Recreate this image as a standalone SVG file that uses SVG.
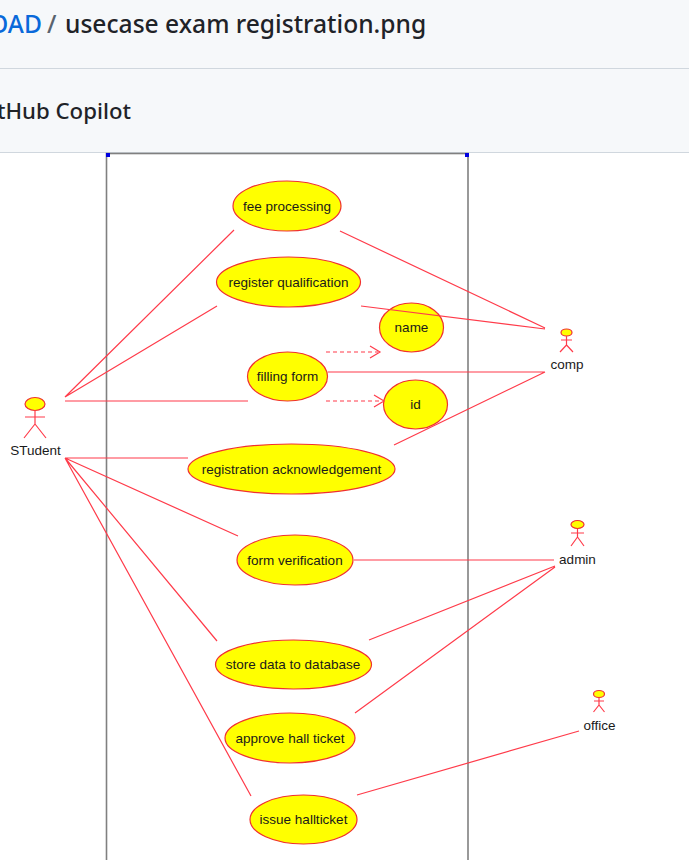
<svg xmlns="http://www.w3.org/2000/svg" width="689" height="860" viewBox="0 0 689 860">
<style>
.uc{fill:#ffff00;stroke:#f03030;stroke-width:1.2}
.lb{font-family:"Liberation Sans",Arial,sans-serif;font-size:13.5px;fill:#1a1a1a;text-anchor:middle}
.ln{fill:none;stroke:#ff3b4a;stroke-width:1.2}
.ds{fill:none;stroke:#ff3b4a;stroke-width:1.2;stroke-dasharray:4 3}
.ar{fill:none;stroke:#ff3b4a;stroke-width:1.2}
.hd{font-family:"Noto Sans","Open Sans",sans-serif;font-size:24.6px;font-weight:500}
.bx{stroke:#808080;stroke-width:1.6;fill:none}
.ac{fill:none;stroke:#ff3b4a;stroke-width:1.2}
.hdc{fill:#ffff00;stroke:#f03030;stroke-width:1.2}
</style>
<rect width="689" height="153" fill="#f6f8fa"/>
<line x1="0" y1="68.500" x2="689" y2="68.500" stroke="#d0d7de"/>
<line x1="0" y1="152.500" x2="689" y2="152.500" stroke="#d0d7de"/>
<text x="-11" y="33" class="hd" fill="#0969da">OAD</text>
<text x="47" y="33" class="hd" fill="#59636e">/</text>
<text x="65" y="33" class="hd" fill="#1f2328">usecase exam registration.png</text>
<text x="-3" y="119" font-family="Noto Sans,Open Sans,sans-serif" font-size="22.2" font-weight="500" fill="#1f2328">tHub Copilot</text>
<g id="system">
<rect x="106.500" y="153.500" width="361.500" height="720" class="bx"/>
<rect x="106" y="153" width="4" height="4" fill="#0000e0"/>
<rect x="465" y="153" width="4" height="4" fill="#0000e0"/>
</g>
<g id="uc-fee"><ellipse class="uc" cx="287" cy="206" rx="54" ry="25"/><text class="lb" x="287" y="211">fee processing</text></g>
<g id="uc-register"><ellipse class="uc" cx="288.500" cy="282" rx="72" ry="25"/><text class="lb" x="288.500" y="287">register qualification</text></g>
<g id="uc-name"><ellipse class="uc" cx="411.500" cy="327.500" rx="32" ry="24.500"/><text class="lb" x="411.500" y="332">name</text></g>
<g id="uc-filling"><ellipse class="uc" cx="287.500" cy="376.500" rx="40" ry="24.500"/><text class="lb" x="287.500" y="381">filling form</text></g>
<g id="uc-id"><ellipse class="uc" cx="415.500" cy="404.500" rx="32" ry="24.500"/><text class="lb" x="415.500" y="409">id</text></g>
<g id="uc-ack"><ellipse class="uc" cx="291.500" cy="469" rx="103.500" ry="25"/><text class="lb" x="291.500" y="474">registration acknowledgement</text></g>
<g id="uc-verify"><ellipse class="uc" cx="295" cy="560" rx="58" ry="25"/><text class="lb" x="295" y="565">form verification</text></g>
<g id="uc-store"><ellipse class="uc" cx="293.500" cy="664.500" rx="78" ry="24.500"/><text class="lb" x="293" y="669">store data to database</text></g>
<g id="uc-approve"><ellipse class="uc" cx="290" cy="738" rx="65" ry="25"/><text class="lb" x="290" y="742.500">approve hall ticket</text></g>
<g id="uc-issue"><ellipse class="uc" cx="303.500" cy="819.500" rx="53.500" ry="24.500"/><text class="lb" x="303.500" y="824">issue hallticket</text></g>
<g id="actor-student"><ellipse class="hdc" cx="35" cy="404" rx="10" ry="6.500"/><path class="ac" d="M35 410V424M25 417H45M35 424L24 438M35 424L46 438"/><text class="lb" x="35.500" y="455">STudent</text></g>
<g id="actor-comp"><ellipse class="hdc" cx="566.500" cy="332.500" rx="5.500" ry="3.500"/><path class="ac" d="M566.500 336V345M561 340H572M566.500 345L560 352M566.500 345L573 352"/><text class="lb" x="567" y="369">comp</text></g>
<g id="actor-admin"><ellipse class="hdc" cx="577.500" cy="524.500" rx="6.500" ry="4"/><path class="ac" d="M577.500 529V537M571 533H584M577.500 537L571 546M577.500 537L584 546"/><text class="lb" x="577.500" y="564">admin</text></g>
<g id="actor-office"><ellipse class="hdc" cx="599" cy="694" rx="5.500" ry="3.500"/><path class="ac" d="M599 698V705M594 701H604M599 705L593.500 712M599 705L604.500 712"/><text class="lb" x="599.500" y="729.500">office</text></g>
<g id="connectors">
<path class="ln" d="M65 397L234 230M65 397L217 306M65 401H248M65 458H188M65 458L238 536M65 458L217 641M65 458L251 796"/>
<path class="ln" d="M340 231L545 328M361 306L545 329M328 372H545M394 445L545 372"/>
<path class="ln" d="M354 560H554M369 640L555 566M355 713L555 567M357 795L579 731"/>
<path class="ds" d="M326 352H378M326 401H382"/>
<path class="ar" d="M370 346L380 352L370 358M374 395L384 401L374 407"/>
</g>
</svg>
